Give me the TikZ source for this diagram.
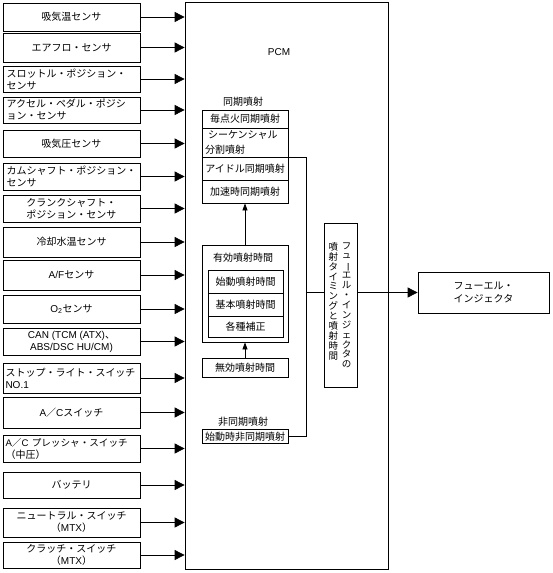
\documentclass[tikz,border=0pt]{standalone}
\usepackage{fontspec}
\usepackage{graphicx}
\setmainfont{Noto Sans CJK JP}
\newfontfamily\lat{Liberation Sans}
\usetikzlibrary{arrows.meta,calc}
\newcommand{\vbarchar}{\rotatebox[origin=c]{-90}{ー}}
\begin{document}
\begin{tikzpicture}[x=1pt,y=-1pt,line width=0.75pt,
  lbox/.style={draw, rectangle, minimum width=137pt, inner xsep=2.5pt, inner ysep=0pt, align=center, font=\fontsize{10}{12}\selectfont},
  lboxl/.style={lbox, text width=132pt, align=left},
  lboxm/.style={lbox, inner xsep=3.5pt, text width=130pt, align=left},
  ibox/.style={draw, rectangle, minimum width=86pt, inner sep=0pt, align=center, font=\fontsize{10}{12}\selectfont},
  inarrow/.style={-{Triangle[length=10pt,width=10pt]}},
  uparrow/.style={-{Triangle[length=7pt,width=5pt]}},
  lbl/.style={inner sep=0pt, font=\fontsize{10}{12}\selectfont},
  vcol/.style={inner sep=0pt, align=center, anchor=north, font=\fontsize{9.5}{9.9}\selectfont}]
\useasboundingbox (0,0) rectangle (552,573);

% PCM
\node[draw, rectangle, minimum width=203pt, minimum height=567pt, inner sep=0pt] (pcm) at (286.5,285.5) {};
\node[lbl, font=\lat\fontsize{10}{12}\selectfont] (pcmlabel) at (279,52) {PCM};

% left input boxes
\node[lbox, minimum height=28pt] (s1) at (71.5,17) {吸気温センサ};
\node[lbox, minimum height=29pt] (s2) at (71.5,47.5) {エアフロ・センサ};
\node[lboxm, minimum height=26pt] (s3) at (71.5,79) {スロットル・ポジション・\\センサ};
\node[lboxm, minimum height=26pt] (s4) at (71.5,110) {アクセル・ペダル・ポジシ\\ョン・センサ};
\node[lbox, minimum height=27pt] (s5) at (71.5,143.5) {吸気圧センサ};
\node[lboxm, minimum height=27pt] (s6) at (71.5,176.5) {カムシャフト・ポジション・\\センサ};
\node[lbox, minimum height=27pt] (s7) at (71.5,208.5) {クランクシャフト・\\ポジション・センサ};
\node[lbox, minimum height=30pt] (s8) at (71.5,242) {冷却水温センサ};
\node[lbox, minimum height=30pt] (s9) at (71.5,275) {{\lat A/F}センサ};
\node[lbox, minimum height=28pt] (s10) at (71.5,309) {{\lat O\textsubscript{2}}センサ};
\node[lbox, minimum height=27pt] (s11) at (71.5,341.5) {{\lat CAN (TCM (ATX)}、\\{\lat ABS/DSC HU/CM)}};
\node[lboxl, minimum height=30pt] (s12) at (71.5,378) {ストップ・ライト・スイッチ\\{\lat NO.1}};
\node[lbox, minimum height=31pt] (s13) at (71.5,412.5) {{\lat A}／{\lat C}スイッチ};
\node[lboxl, minimum height=27pt] (s14) at (71.5,448.5) {{\fontsize{9.6}{12}\selectfont{\lat A}／{\lat C} プレッシャ・スイッチ}\\（中圧）};
\node[lbox, minimum height=26pt] (s15) at (71.5,485) {バッテリ};
\node[lbox, minimum height=29pt] (s16) at (71.5,522.5) {ニュートラル・スイッチ\\（{\lat MTX}）};
\node[lbox, minimum height=26pt] (s17) at (71.5,555) {クラッチ・スイッチ\\（{\lat MTX}）};

\foreach \i in {1,...,17} {
  \draw[inarrow] (s\i.east) -- (s\i.east -| pcm.west);
}

% synchronous injection
\node[lbl] (synclbl) at (243,102) {同期噴射};
\node[ibox, minimum height=18pt] (r1) at (245,119) {毎点火同期噴射};
\node[ibox, minimum height=29pt, text width=80pt, inner xsep=3pt, align=left, font=\fontsize{10}{14.5}\selectfont] (r2) at (245,142.5) {\hspace*{3pt}シーケンシャル\\分割噴射};
\node[ibox, minimum height=23pt] (r3) at (245,168.5) {アイドル同期噴射};
\node[ibox, minimum height=23pt] (r4) at (245,191.5) {加速時同期噴射};

% effective injection time
\node[draw, rectangle, minimum width=86pt, minimum height=97pt, inner sep=0pt] (eff) at (245,293.5) {};
\node[lbl] (efflbl) at (243,258) {有効噴射時間};
\node[draw, rectangle, minimum width=75pt, minimum height=23pt, inner sep=0pt, font=\fontsize{10}{12}\selectfont] (i1) at (245.5,281.5) {始動噴射時間};
\node[draw, rectangle, minimum width=75pt, minimum height=23pt, inner sep=0pt, font=\fontsize{10}{12}\selectfont] (i2) at (245.5,304.5) {基本噴射時間};
\node[draw, rectangle, minimum width=75pt, minimum height=21pt, inner sep=0pt, font=\fontsize{10}{12}\selectfont] (i3) at (245.5,326.5) {各種補正};

\node[ibox, minimum height=19pt] (inv) at (245,367.5) {無効噴射時間};

\draw[uparrow] (inv.north) -- (eff.south);
\draw[uparrow] (eff.north) -- (r4.south);

% asynchronous injection
\node[lbl] (asynclbl) at (243,422) {非同期噴射};
\node[ibox, minimum height=14pt] (async) at (245,436.5) {始動時非同期噴射};

% bus and vertical box
\coordinate (bus) at (306,293);
\node[draw, rectangle, minimum width=33pt, minimum height=164pt, inner sep=0pt] (vt) at (340.5,305) {};
\node[vcol] (vcol1) at (346.7,242) {フ\\ュ\\\vbarchar\\エ\\ル\\・\\イ\\ン\\ジ\\ェ\\ク\\タ\\の};
\node[vcol] (vcol2) at (333.3,242) {噴\\射\\タ\\イ\\ミ\\ン\\グ\\と\\噴\\射\\時\\間};

\draw (r2.south east) -- (r2.south east -| bus) -- (async.east -| bus) -- (async.east);

% injector
\node[draw, rectangle, minimum width=131pt, minimum height=41pt, inner sep=0pt, align=center, font=\fontsize{10}{12.5}\selectfont] (inj) at (483.5,292.5) {フューエル・\\インジェクタ};
\draw (inj.west -| bus) -- (inj.west -| vt.west);
\draw[inarrow] (inj.west -| vt.east) -- (inj.west);
\end{tikzpicture}
\end{document}
